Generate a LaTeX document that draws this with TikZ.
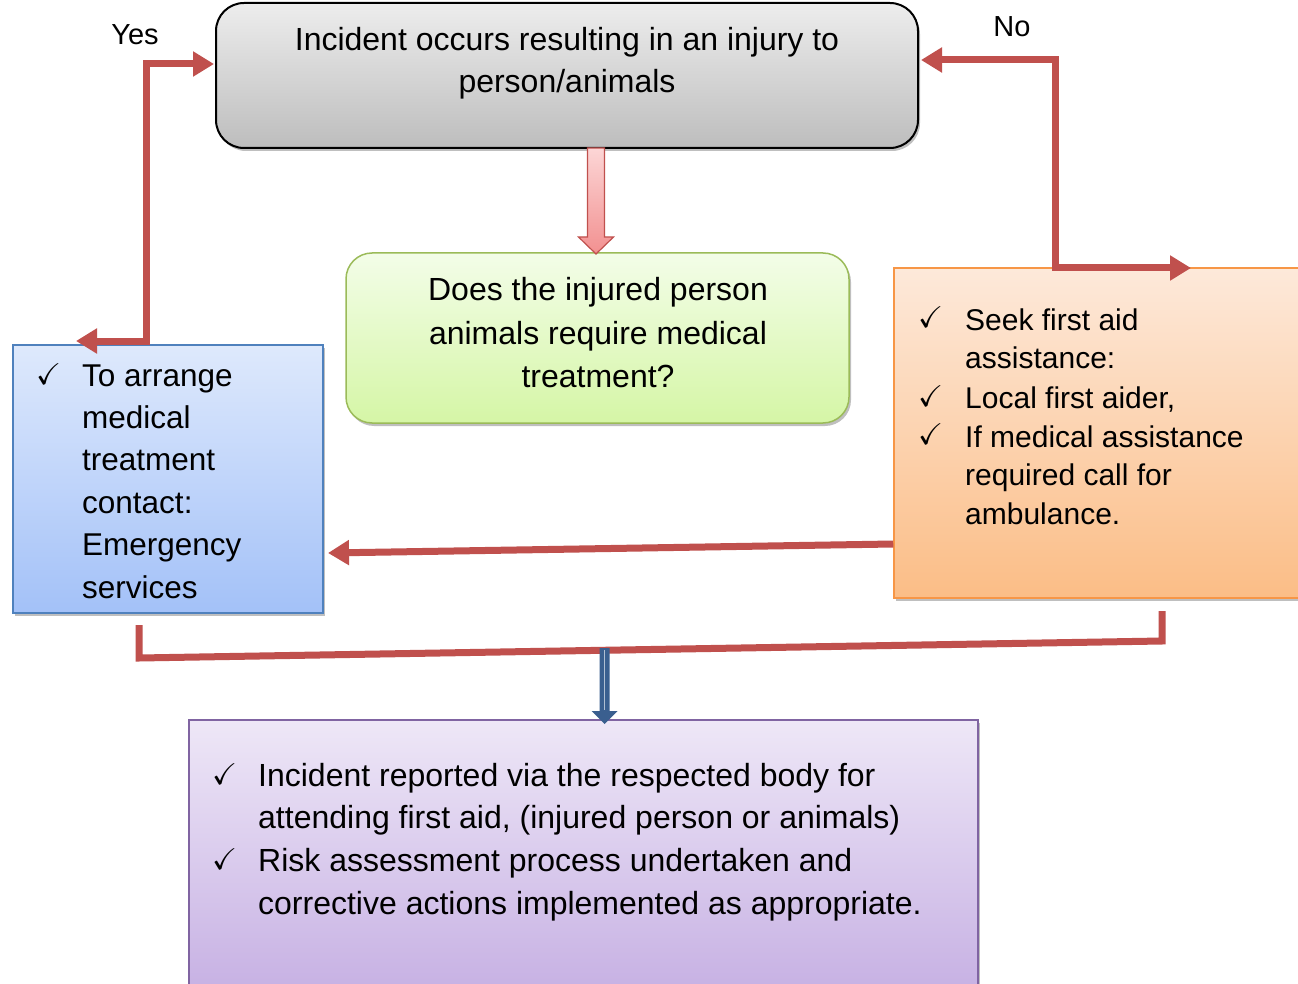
\documentclass[tikz,border=0pt]{standalone}
\usepackage{fontspec}
\setmainfont{Liberation Sans}
\usepackage{amssymb}
\usetikzlibrary{arrows.meta,shadows,calc}
\definecolor{arrowred}{HTML}{C0504D}
\definecolor{greybot}{HTML}{BDBDBD}
\definecolor{greytop}{HTML}{EDEDED}
\definecolor{greentop}{HTML}{F3FDE8}
\definecolor{greenbot}{HTML}{D5F6A6}
\definecolor{greenline}{HTML}{9BBB59}
\definecolor{bluetop}{HTML}{DEE9FC}
\definecolor{bluebot}{HTML}{A3C1F8}
\definecolor{blueline}{HTML}{4F81BD}
\definecolor{orangetop}{HTML}{FDE9DA}
\definecolor{orangebot}{HTML}{FBBD86}
\definecolor{orangeline}{HTML}{F79646}
\definecolor{purpletop}{HTML}{EEE7F7}
\definecolor{purplebot}{HTML}{C4ADE2}
\definecolor{purpleline}{HTML}{8064A2}
\definecolor{pinktop}{HTML}{FCD6D6}
\definecolor{pinkbot}{HTML}{F29090}
\definecolor{darkblue}{HTML}{3A5F8F}
\newcommand\fsz[2]{\fontsize{#1}{#2}\selectfont}
\newcommand\ck{\raisebox{2pt}{\fontsize{30}{30}\selectfont$\checkmark$}}
\tikzset{
  boxbase/.style={inner sep=0pt, drop shadow={shadow xshift=2pt,shadow yshift=-3pt,opacity=0.25,fill=black}},
  txt/.style={inner sep=0pt},
  redline/.style={draw=arrowred, line width=7pt},
  redtip/.tip={Triangle[length=21pt,width=24pt]}
}
\begin{document}
\begin{tikzpicture}[x=1pt,y=-1pt]
\clip (0,0) rectangle (1298,984);
\fill[white] (0,0) rectangle (1298,984);
% boxes
\node[boxbase, draw=black, line width=2pt, rounded corners=28pt, top color=greytop, bottom color=greybot,
  minimum width=702pt, minimum height=145pt] (top) at (567,75.5) {};
\node[boxbase, draw=greenline, line width=1.5pt, rounded corners=26pt, top color=greentop, bottom color=greenbot,
  minimum width=503pt, minimum height=170pt] (q) at (597.5,338) {};
\node[boxbase, draw=blueline, line width=1.5pt, top color=bluetop, bottom color=bluebot,
  minimum width=310pt, minimum height=268pt] (med) at (168,479) {};
\node[boxbase, draw=orangeline, line width=1.5pt, top color=orangetop, bottom color=orangebot,
  minimum width=412pt, minimum height=330pt] (aid) at (1100,433) {};
\node[boxbase, draw=purpleline, line width=1.5pt, top color=purpletop, bottom color=purplebot,
  minimum width=789pt, minimum height=290pt] (rep) at (583.5,865) {};
% texts
\node[txt, anchor=base] (toptxt) at (567,51) {\fsz{32}{42}\begin{tabular}[t]{@{}c@{}}Incident occurs resulting in an injury to\\person/animals\end{tabular}};
\node[txt, anchor=base] (qtxt) at (598,301) {\fsz{32}{43.5}\begin{tabular}[t]{@{}c@{}}Does the injured person\\animals require medical\\treatment?\end{tabular}};
\node[txt, anchor=base west] (medtxt) at (36,386) {\fsz{31.5}{42.4}\begin{tabular}[t]{@{}p{46pt}@{}l@{}}\ck & To arrange\\ & medical\\ & treatment\\ & contact:\\ & Emergency\\ & services\end{tabular}};
\node[txt, anchor=base west] (aidtxt) at (918,330) {\fsz{30}{39}\begin{tabular}[t]{@{}p{47pt}@{}l@{}}\ck & Seek first aid\\ & assistance:\\ \ck & Local first aider,\\ \ck & If medical assistance\\ & required call for\\ & ambulance.\end{tabular}};
\node[txt, anchor=base west] (reptxt) at (212,786) {\fsz{32}{42.7}\begin{tabular}[t]{@{}p{46pt}@{}l@{}}\ck & Incident reported via the respected body for\\ & attending first aid, (injured person or animals)\\ \ck & Risk assessment process undertaken and\\ & corrective actions implemented as appropriate.\end{tabular}};
\node[txt, font=\fsz{29}{34}] (yes) at (135,35) {Yes};
\node[txt, font=\fsz{29}{34}] (no) at (1012,27) {No};
% pink arrow from top to question
\coordinate (pa) at (596,148);
\coordinate (pb) at (596,254);
\draw[draw=arrowred, line width=1.2pt, top color=pinktop, bottom color=pinkbot]
  ($(pa)+(-8.5,0)$) -- ($(pa)+(8.5,0)$) -- ($(pb)+(8.5,-17)$) -- ($(pb)+(17.5,-17)$) -- (pb)
  -- ($(pb)+(-17.5,-17)$) -- ($(pb)+(-8.5,-17)$) -- cycle;
% red connectors
\coordinate (yesA) at (76,341);
\coordinate (yesB) at (214,64);
\draw[redline, redtip-redtip] (yesA) -- (146,341) -- (146,64) -- (yesB);
\coordinate (noA) at (921,60);
\coordinate (noB) at (1191,268);
\draw[redline, redtip-redtip] (noA) -- (1055,60) -- (1055,268) -- (noB);
\coordinate (midA) at (aid.west |- 0,544);
\coordinate (midB) at (328,553);
\draw[redline, -redtip] (midA) -- (midB);
\coordinate (brL) at (139,625);
\coordinate (brR) at (1162,611);
\draw[redline] (brL) -- (139,658) -- (1162,641) -- (brR);
% blue arrow
\coordinate (ba) at (604.5,648);
\coordinate (bb) at (604.5,724);
\fill[darkblue]
  ($(ba)+(-5,0)$) -- ($(ba)+(5,0)$) -- ($(bb)+(5,-13)$) -- ($(bb)+(13,-13)$) -- (bb)
  -- ($(bb)+(-13,-13)$) -- ($(bb)+(-5,-13)$) -- cycle;
\draw[white!60!darkblue, line width=1pt] ($(ba)+(0,2)$) -- ($(bb)+(0,-14)$);
\end{tikzpicture}
\end{document}
